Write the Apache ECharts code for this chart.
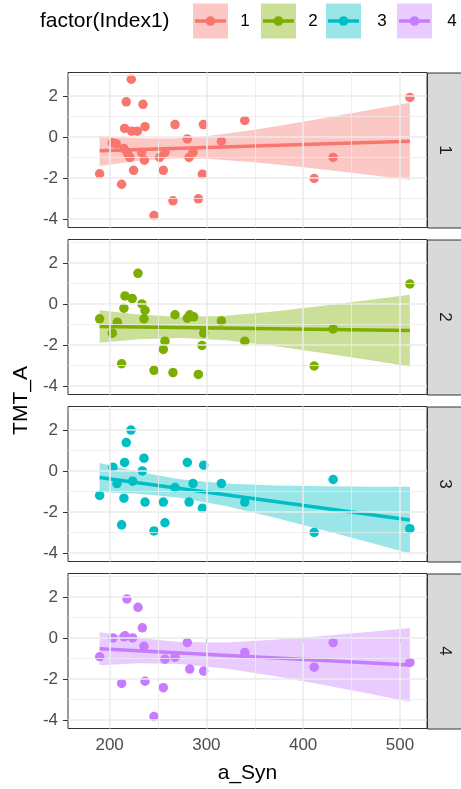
<!DOCTYPE html>
<html>
<head>
<meta charset="utf-8">
<script src="https://cdn.jsdelivr.net/npm/echarts@6/dist/echarts.min.js"></script>
<style>
  html, body { margin: 0; padding: 0; background: #ffffff; }
  #chart { width: 461px; height: 789px; }
</style>
</head>
<body>
<div id="chart"></div>
<script>
// Index1 levels and their hue colours
const levels = ['1', '2', '3', '4'];
const levelColors = ['#F8766D', '#7CAE00', '#00BFC4', '#C77CFF'];

// a_Syn vs TMT_A observations, one list per Index1 level
const points1 = [[189.7,-1.80],[202.8,-0.29],[206.9,-0.33],[212.4,-2.31],[214.8,-0.57],[215.5,0.41],[217.2,1.71],[218.3,-0.78],[221.0,-1.00],[222.4,2.81],[222.8,0.28],[224.8,-1.63],[228.6,0.28],[233.1,-0.76],[234.5,1.59],[235.9,-1.14],[236.6,0.50],[245.9,-3.84],[251.7,-1.00],[255.5,-1.63],[257.2,-0.76],[265.5,-3.12],[267.6,0.60],[280.3,-0.10],[282.1,-1.00],[286.2,-0.76],[291.7,-3.02],[295.9,-1.82],[296.9,0.60],[315.5,-0.21],[339.7,0.80],[411.4,-2.03],[431.0,-1.00],[510.3,1.92]];
const points2 = [[189.7,-0.73],[202.8,-1.43],[207.9,-0.89],[212.4,-2.92],[214.8,-0.21],[215.9,0.39],[223.4,0.26],[229.3,1.49],[233.4,0.00],[235.5,-0.73],[236.6,-0.32],[245.9,-3.24],[255.5,-2.22],[257.2,-1.82],[265.5,-3.35],[267.6,-0.53],[280.3,-0.70],[282.8,-0.53],[286.9,-0.63],[291.7,-3.44],[295.5,-2.03],[297.2,-1.43],[315.5,-0.83],[339.7,-1.82],[411.4,-3.03],[431.0,-1.22],[510.3,0.97]];
const points3 = [[189.7,-1.20],[203.4,0.18],[207.6,-0.62],[212.4,-2.63],[214.8,-1.33],[215.5,0.41],[217.2,1.38],[222.1,1.99],[223.8,-0.50],[233.8,0.00],[235.5,0.62],[236.6,-1.52],[245.9,-2.93],[255.5,-1.52],[257.2,-2.53],[267.6,-0.81],[280.3,0.41],[282.1,-1.52],[286.2,-0.62],[295.9,-1.82],[297.2,0.28],[315.5,-0.62],[339.7,-1.52],[411.4,-3.00],[431.0,-0.42],[510.3,-2.82]];
const points4 = [[189.7,-0.92],[203.4,0.00],[212.4,-2.22],[214.8,0.05],[215.9,0.10],[217.9,1.90],[223.8,0.00],[229.3,1.49],[233.8,0.49],[235.5,-0.41],[236.6,-2.11],[245.9,-3.84],[255.5,-2.43],[257.2,-1.04],[267.6,-0.94],[280.3,-0.23],[282.8,-1.52],[297.2,-1.62],[339.7,-0.71],[411.4,-1.43],[431.0,-0.23],[510.3,-1.20]];

// linear fit end points per level
const fit1 = [[189.7,-0.68],[510.3,-0.21]];
const fit2 = [[189.7,-1.10],[510.3,-1.30]];
const fit3 = [[189.7,-0.32],[510.3,-2.40]];
const fit4 = [[189.7,-0.53],[510.3,-1.32]];

// confidence band edges per level
const bandX1 = [189.7, 230, 265, 300, 350, 400, 450, 510.3];
const bandLo1 = [-1.42, -1.17, -1.06, -1.07, -1.24, -1.48, -1.75, -2.09];
const bandHi1 = [0.06, -0.07, -0.08, 0.03, 0.35, 0.74, 1.15, 1.67];
const bandX2 = [189.7, 230, 275, 320, 370, 420, 470, 510.3];
const bandLo2 = [-1.90, -1.73, -1.66, -1.78, -2.06, -2.39, -2.75, -3.05];
const bandHi2 = [-0.31, -0.52, -0.64, -0.58, -0.37, -0.09, 0.20, 0.45];
const bandX3 = [189.7, 230, 272.6, 320, 370, 420, 470, 510.3];
const bandLo3 = [-1.03, -1.11, -1.31, -1.71, -2.27, -2.88, -3.51, -4.03];
const bandHi3 = [0.39, -0.05, -0.41, -0.62, -0.71, -0.75, -0.77, -0.78];
const bandX4 = [189.7, 230, 272.4, 320, 370, 420, 470, 510.3];
const bandLo4 = [-1.33, -1.24, -1.27, -1.49, -1.86, -2.29, -2.74, -3.12];
const bandHi4 = [0.27, -0.01, -0.20, -0.22, -0.09, 0.09, 0.30, 0.48];

// axis ticks
const xMajor = [200, 300, 400, 500];
const xMinor = [250, 350, 450];
const yMajor = [-4, -2, 0, 2];
const yMinor = [-3, -1, 1, 3];

const allPoints = [points1, points2, points3, points4];
const allFits = [fit1, fit2, fit3, fit4];
const allBands = [[bandX1, bandLo1, bandHi1], [bandX2, bandLo2, bandHi2], [bandX3, bandLo3, bandHi3], [bandX4, bandLo4, bandHi4]];

// layout
const plotLeft = 68, plotRight = 427;
const panelTops = [72.5, 239.5, 406.5, 573.5];
const panelH = 155;
const xMin = 157, xMax = 528;
const yMin = -4.42, yMax = 3.14;
const stripW = 36;

function hexA(hex, a) {
  const n = parseInt(hex.slice(1), 16);
  return 'rgba(' + ((n >> 16) & 255) + ',' + ((n >> 8) & 255) + ',' + (n & 255) + ',' + a + ')';
}

const grids = [], xAxes = [], yAxes = [], series = [], graphics = [];

levels.forEach((lvl, i) => {
  const col = levelColors[i];
  const isBottom = i === levels.length - 1;
  grids.push({
    left: plotLeft, width: plotRight - plotLeft, top: panelTops[i], height: panelH,
    show: true, backgroundColor: '#ffffff', borderColor: '#333333', borderWidth: 1, z: 0
  });
  xAxes.push({
    type: 'value', gridIndex: i, min: xMin, max: xMax,
    axisLine: { show: false },
    splitLine: { show: false },
    axisTick: { show: isBottom, customValues: xMajor, length: 5, lineStyle: { color: '#333333', width: 1 } },
    axisLabel: { show: isBottom, customValues: xMajor, margin: 8, fontSize: 17, color: '#4D4D4D', fontFamily: 'Liberation Sans, Arial, sans-serif' },
    name: isBottom ? 'a_Syn' : '',
    nameLocation: 'middle', nameGap: 34,
    nameTextStyle: { fontSize: 21, color: '#000000', fontFamily: 'Liberation Sans, Arial, sans-serif' }
  });
  yAxes.push({
    type: 'value', gridIndex: i, min: yMin, max: yMax,
    axisLine: { show: false },
    splitLine: { show: false },
    axisTick: { show: true, customValues: yMajor, length: 5, lineStyle: { color: '#333333', width: 1 } },
    axisLabel: { show: true, customValues: yMajor, margin: 10, fontSize: 17, color: '#4D4D4D', fontFamily: 'Liberation Sans, Arial, sans-serif' }
  });

  // panel grid lines
  const gridLines = [];
  xMinor.forEach(v => gridLines.push({ xAxis: v, lineStyle: { color: '#EBEBEB', width: 0.8, type: 'solid' } }));
  yMinor.forEach(v => gridLines.push({ yAxis: v, lineStyle: { color: '#EBEBEB', width: 0.8, type: 'solid' } }));
  xMajor.forEach(v => gridLines.push({ xAxis: v, lineStyle: { color: '#EBEBEB', width: 1.6, type: 'solid' } }));
  yMajor.forEach(v => gridLines.push({ yAxis: v, lineStyle: { color: '#EBEBEB', width: 1.6, type: 'solid' } }));
  series.push({
    type: 'line', xAxisIndex: i, yAxisIndex: i, data: [], z: 1, silent: true,
    markLine: { silent: true, symbol: ['none', 'none'], label: { show: false }, animation: false, data: gridLines }
  });

  // confidence band
  const [bx, blo, bhi] = allBands[i];
  series.push({
    type: 'custom', xAxisIndex: i, yAxisIndex: i, z: 2, silent: true,
    data: bx.map((x, k) => [x, blo[k], bhi[k]]),
    encode: { x: 0, y: [1, 2] },
    renderItem: (params, api) => {
      if (params.dataIndex !== 0) return null;
      const pts = [];
      for (let k = 0; k < bx.length; k++) pts.push(api.coord([bx[k], bhi[k]]));
      for (let k = bx.length - 1; k >= 0; k--) pts.push(api.coord([bx[k], blo[k]]));
      return { type: 'polygon', shape: { points: pts }, style: { fill: hexA(col, 0.4), stroke: null } };
    }
  });

  // fitted line
  series.push({
    type: 'line', xAxisIndex: i, yAxisIndex: i, z: 3, silent: true,
    data: allFits[i], showSymbol: false, symbol: 'none',
    lineStyle: { color: col, width: 3.5 }
  });

  // observations
  series.push({
    type: 'scatter', xAxisIndex: i, yAxisIndex: i, z: 4, silent: true,
    data: allPoints[i], symbolSize: 9.5,
    itemStyle: { color: col, opacity: 1 }
  });

  // facet strip
  graphics.push({
    type: 'rect', left: plotRight, top: panelTops[i], z: 10,
    shape: { width: stripW, height: panelH },
    style: { fill: '#D9D9D9', stroke: '#333333', lineWidth: 1 }
  });
  graphics.push({
    type: 'text', x: 445, y: panelTops[i] + panelH / 2, rotation: -Math.PI / 2, z: 11,
    style: { text: lvl, fontSize: 17, fill: '#1A1A1A', align: 'center', verticalAlign: 'middle', fontFamily: 'Liberation Sans, Arial, sans-serif' }
  });
});

// y axis title
graphics.push({
  type: 'text', x: 21, y: (panelTops[0] + panelTops[3] + panelH) / 2, rotation: Math.PI / 2, z: 11,
  style: { text: 'TMT_A', fontSize: 21, fill: '#000000', align: 'center', verticalAlign: 'middle', fontFamily: 'Liberation Sans, Arial, sans-serif' }
});

// legend
graphics.push({
  type: 'text', x: 40, y: 21, z: 11,
  style: { text: 'factor(Index1)', fontSize: 21, fill: '#000000', align: 'left', verticalAlign: 'middle', fontFamily: 'Liberation Sans, Arial, sans-serif' }
});
const keyLefts = [193, 261, 326, 397];
const keyLabelX = [245, 313, 382, 452];
levels.forEach((lvl, i) => {
  const col = levelColors[i];
  const kx = keyLefts[i], ky = 3.5, ks = 35;
  graphics.push({ type: 'rect', left: kx, top: ky, z: 11, shape: { width: ks, height: ks }, style: { fill: hexA(col, 0.4) } });
  graphics.push({ type: 'line', z: 12, shape: { x1: kx + 2, y1: ky + ks / 2, x2: kx + ks - 2, y2: ky + ks / 2 }, style: { stroke: col, lineWidth: 3.5 } });
  graphics.push({ type: 'circle', z: 13, shape: { cx: kx + ks / 2, cy: ky + ks / 2, r: 4.8 }, style: { fill: col } });
  graphics.push({
    type: 'text', x: keyLabelX[i], y: 21, z: 11,
    style: { text: lvl, fontSize: 17, fill: '#000000', align: 'center', verticalAlign: 'middle', fontFamily: 'Liberation Sans, Arial, sans-serif' }
  });
});

const chart = echarts.init(document.getElementById('chart'), null, { renderer: 'canvas' });
chart.setOption({
  animation: false,
  backgroundColor: '#ffffff',
  grid: grids,
  xAxis: xAxes,
  yAxis: yAxes,
  series: series,
  graphic: graphics
});
</script>
</body>
</html>
